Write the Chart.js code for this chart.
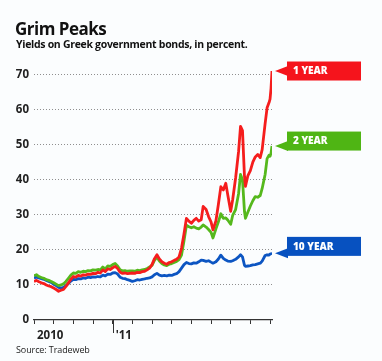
<!DOCTYPE html>
<html>
<head>
<meta charset="utf-8">
<script src="https://cdn.jsdelivr.net/npm/chart.js@4.4.1/dist/chart.umd.min.js"></script>
<style>
html, body { margin: 0; padding: 0; background: #fbfdfe; }
#wrap { position: relative; width: 382px; height: 361px; overflow: hidden; }
#box { position: absolute; left: 0; top: 0; width: 382px; height: 361px; }
.title { position: absolute; left: 15px; top: 17px; font: 700 17px "Open Sans"; color: #111; letter-spacing: -0.5px; }
.sub { position: absolute; left: 16px; top: 37px; font: 700 10.5px "Open Sans"; color: #111; letter-spacing: -0.3px; }
.src { position: absolute; left: 16px; top: 343px; font: 9px "Open Sans"; color: #222; letter-spacing: -0.1px; }
</style>
</head>
<body>
<div id="wrap">
  <div id="box"><canvas id="grafico"></canvas></div>
  <div class="title">Grim Peaks</div>
  <div class="sub">Yields on Greek government bonds, in percent.</div>
  <div class="src">Source: Tradeweb</div>
</div>
<script>
// months since Sep 1 2010
const meses = [
    0, 0.125, 0.25, 0.375, 0.5, 0.625, 0.75, 0.875,
    1, 1.125, 1.25, 1.375, 1.5, 1.625, 1.75, 1.875,
    2, 2.125, 2.25, 2.375, 2.5, 2.625, 2.75, 2.875,
    3, 3.125, 3.25, 3.375, 3.5, 3.625, 3.75, 3.875,
    4, 4.125, 4.25, 4.375, 4.5, 4.625, 4.75, 4.875,
    5, 5.125, 5.25, 5.375, 5.5, 5.625, 5.75, 5.875,
    6, 6.125, 6.25, 6.375, 6.5, 6.625, 6.75, 6.875,
    7, 7.125, 7.25, 7.375, 7.5,
    7.625, 7.75, 7.875, 8, 8.125, 8.25, 8.375, 8.5,
    8.6, 8.75, 8.875, 9, 9.1, 9.25, 9.375, 9.5,
    9.625, 9.75, 9.85, 10, 10.1, 10.25, 10.4, 10.5,
    10.6, 10.7, 10.75, 10.875, 11, 11.125, 11.25, 11.375,
    11.5, 11.6, 11.75, 11.85, 11.95, 12, 12.05, 12.1
];

const umAno = [
    11.0, 11.3, 10.9, 10.6, 10.4, 10.0, 9.7, 9.5,
    9.1, 8.7, 8.2, 8.5, 8.7, 9.6, 10.6, 11.6,
    12.4, 12.2, 12.7, 12.5, 12.9, 12.8, 13.1, 13.0,
    13.3, 13.2, 13.6, 13.4, 14.3, 13.8, 14.6, 14.4,
    14.9, 15.3, 14.7, 13.6, 13.3, 13.4, 13.2, 13.3,
    13.4, 13.3, 13.6, 13.5, 13.8, 13.9, 14.3, 14.8,
    15.8, 17.5, 18.6, 17.4, 16.6, 16.2, 15.9, 16.4,
    16.6, 17.0, 17.3, 18.0, 20.5,
    24.5, 29.0, 28.2, 27.6, 28.4, 29.0, 28.2, 28.6,
    32.4, 31.5, 29.5, 28.0, 25.7, 28.3, 33.0, 38.0,
    37.1, 39.0, 35.7, 31.0, 34.3, 40.5, 48.0, 55.2,
    54.0, 41.0, 38.1, 41.2, 42.6, 45.0, 46.5, 47.2,
    46.3, 48.6, 56.0, 60.5, 62.0, 63.0, 66.0, 71.0
];

const doisAnos = [
    12.6, 12.9, 12.4, 12.1, 11.9, 11.5, 11.3, 11.0,
    10.6, 10.2, 9.8, 10.0, 10.3, 11.0, 11.9, 12.8,
    13.4, 13.3, 13.8, 13.6, 13.9, 13.8, 14.1, 14.0,
    14.3, 14.2, 14.4, 14.3, 15.1, 14.6, 15.4, 15.3,
    15.8, 16.1, 15.4, 14.3, 14.0, 14.1, 13.9, 14.0,
    14.0, 13.9, 14.2, 14.1, 14.3, 14.4, 14.7, 15.1,
    15.6, 17.0, 17.9, 16.8, 16.1, 15.7, 15.5, 15.9,
    16.1, 16.4, 16.7, 17.2, 18.5,
    22.5, 27.0, 26.6, 26.3, 26.6, 26.2, 26.0, 26.5,
    27.1, 26.5, 25.8, 25.0, 23.4, 26.0, 28.0, 30.3,
    29.0, 29.1, 28.5, 27.3, 29.8, 31.5, 36.0, 41.5,
    40.0, 31.0, 29.0, 30.8, 32.5, 34.0, 35.2, 35.0,
    35.5, 37.5, 41.5, 46.0, 47.0, 46.7, 47.5, 49.6
];

const dezAnos = [
    12.0, 12.2, 12.0, 11.8, 11.6, 11.3, 11.0, 10.7,
    10.2, 9.8, 9.3, 9.1, 9.3, 9.8, 10.4, 11.1,
    11.6, 11.5, 11.8, 11.7, 12.0, 11.9, 12.2, 12.1,
    12.3, 12.2, 12.4, 12.3, 12.8, 12.6, 13.1, 13.0,
    13.4, 13.5, 13.1, 12.2, 11.9, 11.8, 11.5, 11.3,
    11.0, 11.2, 11.5, 11.4, 11.6, 11.7, 11.9, 12.0,
    12.3, 12.9, 13.3, 12.8, 12.6, 12.7, 12.6, 12.8,
    12.7, 13.0, 13.2, 13.8, 14.8,
    15.8, 16.4, 16.1, 16.0, 16.3, 16.2, 16.6, 17.1,
    17.0, 16.7, 16.9, 16.5, 16.2, 16.6, 17.4, 18.5,
    17.6, 17.1, 16.8, 16.7, 16.9, 17.3, 18.0, 18.6,
    18.0, 15.6, 15.3, 15.4, 15.5, 15.7, 15.8, 16.0,
    16.2, 16.8, 18.4, 18.6, 18.5, 18.8, 18.9, 19.0
];

const nomes = ["1 YEAR", "2 YEAR", "10 YEAR"];
const coresLinha = ["#f51d1d", "#55b81c", "#0c55c2"];
const coresEtiqueta = ["#f5141c", "#4fb514", "#0751c0"];
const deslocEtiqueta = [0, 5, 7];

const ticksY = [0, 10, 20, 30, 40, 50, 60, 70];
const ticksX = [0, 1, 2, 3, 4, 5, 6, 7, 8, 9, 10, 11, 12];
const rotulosX = { 0: "2010", 4: "'11" };
const inicioAno = 4;

function serie(valores){
    return meses.map((m, i) => ({ x: m, y: valores[i] }));
}

const etiquetas = {
    id: "etiquetas",
    afterDatasetsDraw(chart){
        const { ctx, chartArea } = chart;
        const sx = chart.scales.x;
        const sy = chart.scales.y;

        // longer tick at the start of 2011
        const xa = sx.getPixelForValue(inicioAno);
        ctx.save();
        ctx.strokeStyle = "#333";
        ctx.lineWidth = 1;
        ctx.beginPath();
        ctx.moveTo(Math.round(xa) + 0.5, chartArea.bottom);
        ctx.lineTo(Math.round(xa) + 0.5, chartArea.bottom + 13);
        ctx.stroke();

        chart.data.datasets.forEach((ds, i) => {
            const ultimo = ds.data[ds.data.length - 1];
            const px = sx.getPixelForValue(ultimo.x);
            const py = sy.getPixelForValue(ultimo.y);
            const cy = py - deslocEtiqueta[i];
            const bx = chartArea.right + 15;
            const bw = 74, bh = 19;

            ctx.fillStyle = coresEtiqueta[i];
            ctx.beginPath();
            ctx.moveTo(px + 3, py);
            ctx.lineTo(bx + 1, py - 5);
            ctx.lineTo(bx + 1, py + 5);
            ctx.closePath();
            ctx.fill();
            ctx.fillRect(bx, cy - bh / 2, bw, bh);

            ctx.fillStyle = "#ffffff";
            ctx.font = "800 10px 'Open Sans'";
            ctx.textAlign = "left";
            ctx.textBaseline = "middle";
            ctx.fillText(nomes[i], bx + 6, cy + 0.5);
        });
        ctx.restore();
    }
};

const ctx = document.getElementById("grafico");

new Chart(ctx, {
    type: "line",
    data: {
        datasets: [
            { label: nomes[0], data: serie(umAno), borderColor: coresLinha[0] },
            { label: nomes[1], data: serie(doisAnos), borderColor: coresLinha[1] },
            { label: nomes[2], data: serie(dezAnos), borderColor: coresLinha[2] }
        ]
    },
    options: {
        responsive: true,
        maintainAspectRatio: false,
        animation: false,
        layout: {
            padding: { top: 64, right: 110, bottom: 0, left: 0 }
        },
        elements: {
            point: { radius: 0 },
            line: { borderWidth: 2.8, tension: 0, borderJoinStyle: "round" }
        },
        plugins: {
            legend: { display: false },
            tooltip: { enabled: false }
        },
        scales: {
            x: {
                type: "linear",
                min: 0,
                max: 12.1,
                afterBuildTicks: (s) => { s.ticks = ticksX.map(v => ({ value: v })); },
                afterFit: (s) => { s.height = 41; },
                border: { display: true, color: "#333", width: 1.2 },
                grid: { drawOnChartArea: false, drawTicks: true, tickLength: 4, color: "#333" },
                ticks: {
                    autoSkip: false,
                    maxRotation: 0,
                    align: "start",
                    labelOffset: 3,
                    padding: 5,
                    color: "#222",
                    font: { family: "Open Sans", size: 11.5, weight: "bold" },
                    callback: (v) => rotulosX[v] || ""
                }
            },
            y: {
                min: 0,
                max: 73,
                afterBuildTicks: (s) => { s.ticks = ticksY.map(v => ({ value: v })); },
                afterFit: (s) => { s.width = 34; },
                border: { display: false, dash: [1, 2] },
                grid: {
                    drawTicks: false,
                    color: (c) => c.tick && c.tick.value === 0 ? "rgba(0,0,0,0)" : "#8f8f8f",
                    lineWidth: 1
                },
                ticks: {
                    padding: 5,
                    color: "#222",
                    font: { family: "Open Sans", size: 11.5, weight: "bold" }
                }
            }
        }
    },
    plugins: [etiquetas]
});
</script>
</body>
</html>
